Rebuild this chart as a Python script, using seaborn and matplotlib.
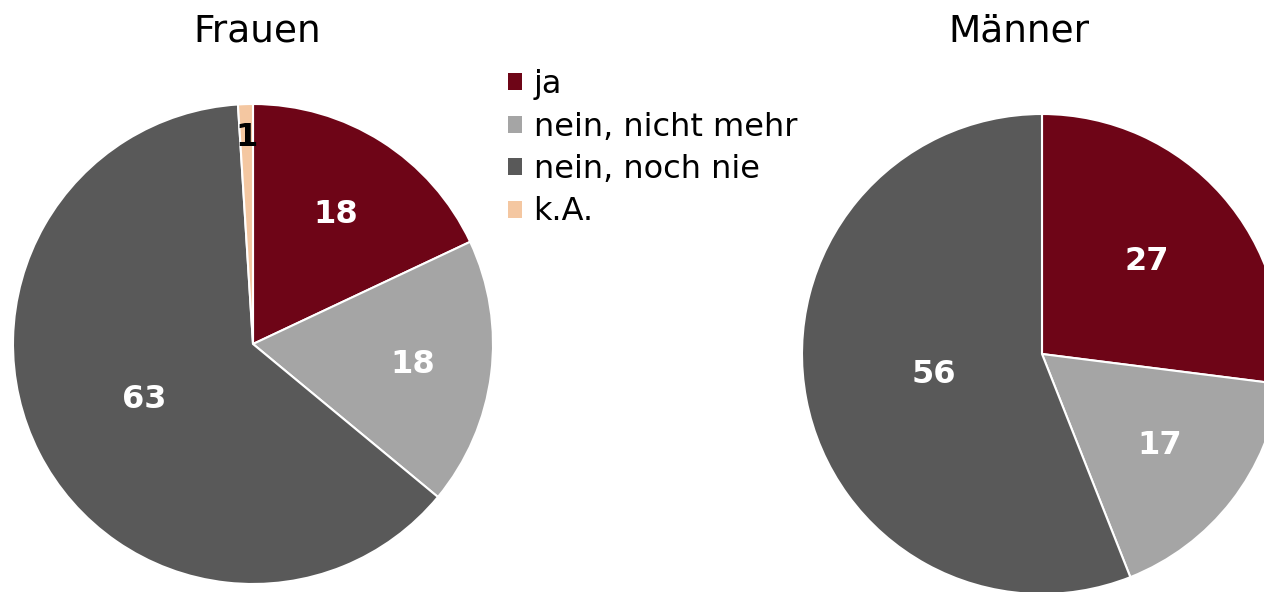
"""Two pie charts (Frauen / Männer) with a shared legend."""
import matplotlib
matplotlib.use("Agg")
import matplotlib.pyplot as plt
import numpy as np
import seaborn as sns
from matplotlib.patches import Patch

categories = ["ja", "nein, nicht mehr", "nein, noch nie", "k.A."]
frauen = [18, 18, 63, 1]
maenner = [27, 17, 56, 0]
titles = ["Frauen", "Männer"]

colors = ["#6E0517", "#A5A5A5", "#595959", "#F4C7A1"]
label_colors = ["white", "white", "white", "black"]
# radial position of the value labels (fraction of radius), per slice
label_r_frauen = [0.64, 0.67, 0.51, 0.86]
label_r_maenner = [0.58, 0.62, 0.46, 0.5]

sns.set_theme(style="white")
plt.rcParams["font.family"] = ["DejaVu Sans"]
plt.rcParams["text.color"] = "black"

W, H = 1264, 592
fig = plt.figure(figsize=(W / 100, H / 100), dpi=100)


def pie_axes(cx, cy, r):
    # cx, cy in pixels from top-left
    return fig.add_axes([(cx - r) / W, (H - cy - r) / H, 2 * r / W, 2 * r / H])


def draw_pie(ax, values, radii):
    vals = np.array(values, dtype=float)
    mask = vals > 0
    ax.pie(vals[mask], colors=np.array(colors)[mask], startangle=90,
           counterclock=False, radius=1,
           wedgeprops=dict(edgecolor="white", linewidth=1.5))
    cum = np.cumsum(vals) - vals / 2
    total = vals.sum()
    for v, c, r, tc in zip(vals, cum, radii, label_colors):
        if v <= 0:
            continue
        ang = np.deg2rad(90 - 360 * c / total)
        ax.text(r * np.cos(ang), r * np.sin(ang), f"{int(v)}", ha="center", va="center",
                color=tc, fontsize=23, fontweight="bold")
    ax.set_xlim(-1, 1)
    ax.set_ylim(-1, 1)
    ax.set_aspect("equal")
    ax.axis("off")


ax1 = pie_axes(253, 344, 240)
draw_pie(ax1, frauen, label_r_frauen)
ax2 = pie_axes(1042, 354, 240)
draw_pie(ax2, maenner, label_r_maenner)

fig.text(257 / W, 1 - 31 / H, titles[0], ha="center", va="center", fontsize=27, color="black")
fig.text(1019 / W, 1 - 31 / H, titles[1], ha="center", va="center", fontsize=27, color="black")

handles = [Patch(facecolor=c, edgecolor="none") for c in colors]
leg = fig.legend(handles, categories, loc="upper left", bbox_to_anchor=(508 / W, 1 - 69 / H),
                 frameon=False, fontsize=23, handlelength=0.45, handleheight=0.45,
                 handletextpad=0.35, labelspacing=0.36, borderpad=0, borderaxespad=0)
for t in leg.get_texts():
    t.set_color("black")

fig.savefig("out.png", dpi=100)
